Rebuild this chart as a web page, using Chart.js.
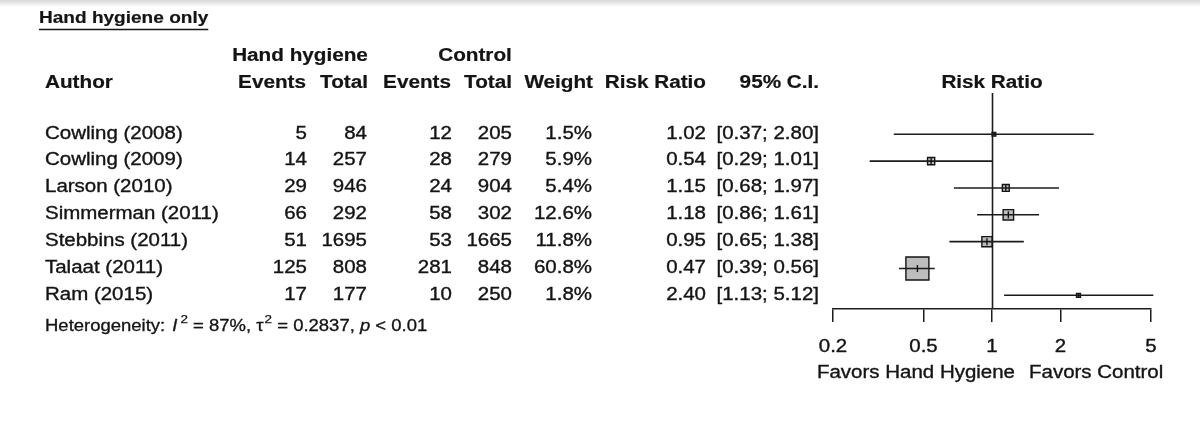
<!DOCTYPE html>
<html><head><meta charset="utf-8">
<script src="https://cdn.jsdelivr.net/npm/chart.js@4/dist/chart.umd.min.js"></script>
<style>html,body{margin:0;padding:0;background:#fff;overflow:hidden}#wrap{width:1200px;height:423px;position:relative}</style>
</head><body><div id="wrap"><canvas id="c" width="1200" height="423"></canvas></div>
<script>
const title = 'Hand hygiene only';
const authors = ['Cowling (2008)','Cowling (2009)','Larson (2010)','Simmerman (2011)','Stebbins (2011)','Talaat (2011)','Ram (2015)'];
const hhEvents = [5,14,29,66,51,125,17];
const hhTotal = [84,257,946,292,1695,808,177];
const ctlEvents = [12,28,24,58,53,281,10];
const ctlTotal = [205,279,904,302,1665,848,250];
const weights = [1.5,5.9,5.4,12.6,11.8,60.8,1.8];
const riskRatio = [1.02,0.54,1.15,1.18,0.95,0.47,2.40];
const ciLower = [0.37,0.29,0.68,0.86,0.65,0.39,1.13];
const ciUpper = [2.80,1.01,1.97,1.61,1.38,0.56,5.12];
const xTicks = [0.2,0.5,1,2,5];
const hetI2 = '87%', hetTau2 = '0.2837', hetP = '< 0.01';
const labelLeft = 'Favors Hand Hygiene', labelRight = 'Favors Control';

const FAM = '"Liberation Sans", Arial, sans-serif';
const INK = '#141414';
const boxSide = w => 2.95*Math.sqrt(w);

function txt(ctx, s, x, y, align, font, sx, stroke){
  ctx.save(); ctx.font = font;
  const w = ctx.measureText(s).width*sx;
  const x0 = align==='right' ? x-w : align==='center' ? x-w/2 : x;
  ctx.translate(x0,y); ctx.scale(sx,1);
  ctx.textAlign='left'; ctx.textBaseline='middle'; ctx.fillStyle=INK;
  ctx.fillText(s,0,0);
  if (stroke !== 0) { ctx.strokeStyle = INK; ctx.lineWidth = stroke || 0.35; ctx.strokeText(s,0,0); }
  ctx.restore();
  return x0+w;
}

const datasets = [];
datasets.push({type:'scatter', order:0, clip:false,
  data: riskRatio.map((v,i)=>({x:v,y:i})),
  pointStyle:'line', rotation:90,
  pointRadius: c => Math.min(boxSide(weights[c.dataIndex])/2, 3.5),
  borderColor:INK, borderWidth:1.4, backgroundColor:INK});
authors.forEach((a,i)=>{
  datasets.push({type:'line', order:1, clip:false,
    data:[{x:ciLower[i],y:i},{x:ciUpper[i],y:i}],
    borderColor:'#1c1c1c', borderWidth:1.6, pointRadius:0, fill:false});
});
datasets.push({type:'scatter', order:2, clip:false,
  data: riskRatio.map((v,i)=>({x:v,y:i})),
  pointStyle:'rect',
  pointRadius: c => boxSide(weights[c.dataIndex])/Math.SQRT2,
  backgroundColor:'#bdbdbd', borderColor:INK, borderWidth:1.4});

const tablePlugin = {
  id:'table',
  beforeDraw(chart){
    const ctx = chart.ctx;
    ctx.save();
    ctx.fillStyle='#fff'; ctx.fillRect(0,0,chart.width,chart.height);
    const g = ctx.createLinearGradient(0,0,0,7);
    g.addColorStop(0,'#d6d6d6'); g.addColorStop(1,'#ffffff');
    ctx.fillStyle=g; ctx.fillRect(0,0,chart.width,7);
    ctx.restore();
  },
  beforeDatasetsDraw(chart){
    const ctx = chart.ctx, xs = chart.scales.x, a = chart.chartArea;
    const x1 = Math.round(xs.getPixelForValue(1))+0.5;
    ctx.save(); ctx.strokeStyle='#1c1c1c'; ctx.lineWidth=1.6;
    ctx.beginPath(); ctx.moveTo(x1,a.top); ctx.lineTo(x1,a.bottom); ctx.stroke(); ctx.restore();
  },
  afterDraw(chart){
    const ctx = chart.ctx, xs = chart.scales.x, ys = chart.scales.y;
    const B = s => `bold ${s}px ${FAM}`, N = s => `${s}px ${FAM}`;
    // title
    const te = txt(ctx, title, 39, 18.5, 'left', B(17), 1.12, 0.2);
    ctx.save(); ctx.strokeStyle=INK; ctx.lineWidth=1.5; ctx.beginPath(); ctx.moveTo(39,29.5); ctx.lineTo(te,29.5); ctx.stroke(); ctx.restore();
    // headers
    const HB = B(18), hsx = 1.15;
    txt(ctx,'Hand hygiene',300,56,'center',HB,hsx,0.2);
    txt(ctx,'Control',475,56,'center',HB,hsx,0.2);
    const hy = 83.5;
    txt(ctx,'Author',45,hy,'left',HB,hsx,0.2);
    txt(ctx,'Events',306,hy,'right',HB,hsx,0.2);
    txt(ctx,'Total',368,hy,'right',HB,hsx,0.2);
    txt(ctx,'Events',451,hy,'right',HB,hsx,0.2);
    txt(ctx,'Total',512,hy,'right',HB,hsx,0.2);
    txt(ctx,'Weight',593,hy,'right',HB,hsx,0.2);
    txt(ctx,'Risk Ratio',706,hy,'right',HB,hsx,0.2);
    txt(ctx,'95% C.I.',819,hy,'right',HB,hsx,0.2);
    txt(ctx,'Risk Ratio',xs.getPixelForValue(1),hy,'center',HB,hsx,0.2);
    // rows
    const F = N(17.5), S = 1.17;
    authors.forEach((a,i)=>{
      const y = ys.getPixelForValue(i) - 0.5;
      txt(ctx,a,45,y,'left',F,S);
      txt(ctx,String(hhEvents[i]),307,y,'right',F,S);
      txt(ctx,String(hhTotal[i]),367,y,'right',F,S);
      txt(ctx,String(ctlEvents[i]),452,y,'right',F,S);
      txt(ctx,String(ctlTotal[i]),512,y,'right',F,S);
      txt(ctx,weights[i].toFixed(1)+'%',592,y,'right',F,S);
      txt(ctx,riskRatio[i].toFixed(2),706,y,'right',F,S);
      txt(ctx,'['+ciLower[i].toFixed(2)+'; '+ciUpper[i].toFixed(2)+']',819,y,'right',F,S);
    });
    // heterogeneity
    const hy2 = 326.5, HF = N(15.8), HI = `italic 15.8px ${FAM}`, HS = `11.5px ${FAM}`, hs = 1.17;
    let x = 45;
    x = txt(ctx,'Heterogeneity: ',x,hy2,'left',HF,hs,0.3);
    x = txt(ctx,'I',x+2,hy2,'left',HI,hs,0.3);
    x = txt(ctx,'2',x+3,hy2-7,'left',HS,hs,0.25);
    x = txt(ctx,' = '+hetI2+', ',x,hy2,'left',HF,hs,0.3);
    x = txt(ctx,'\u03C4',x,hy2,'left',HF,hs,0.3);
    x = txt(ctx,'2',x+1,hy2-7,'left',HS,hs,0.25);
    x = txt(ctx,' = '+hetTau2+', ',x,hy2,'left',HF,hs,0.3);
    x = txt(ctx,'p',x,hy2,'left',HI,hs,0.3);
    x = txt(ctx,' '+hetP,x,hy2,'left',HF,hs,0.3);
    // tick labels
    xTicks.forEach(v=>{
      txt(ctx,String(v),xs.getPixelForValue(v),347,'center',N(17.5),1.17);
    });
    txt(ctx,labelLeft,1015,373,'right',N(17.5),1.17);
    txt(ctx,labelRight,1029,373,'left',N(17.5),1.17);
  }
};

new Chart(document.getElementById('c'), {
  data:{datasets},
  options:{
    responsive:false, animation:false, devicePixelRatio:1,
    layout:{padding:{left:833,right:49,top:93,bottom:101}},
    plugins:{legend:{display:false},tooltip:{enabled:false}},
    scales:{
      x:{type:'logarithmic', position:'bottom', min:0.2, max:5,
        afterBuildTicks: s => { s.ticks = xTicks.map(v=>({value:v})); },
        afterFit: s => { s.height = 13; },
        ticks:{display:false},
        grid:{drawOnChartArea:false, drawTicks:true, tickLength:13, color:'#1c1c1c', lineWidth:1.5},
        border:{display:true, color:'#1c1c1c', width:1.5}},
      y:{type:'linear', min:-1.54, max:6.51, reverse:true, display:false}
    }
  },
  plugins:[tablePlugin]
});
</script></body></html>
